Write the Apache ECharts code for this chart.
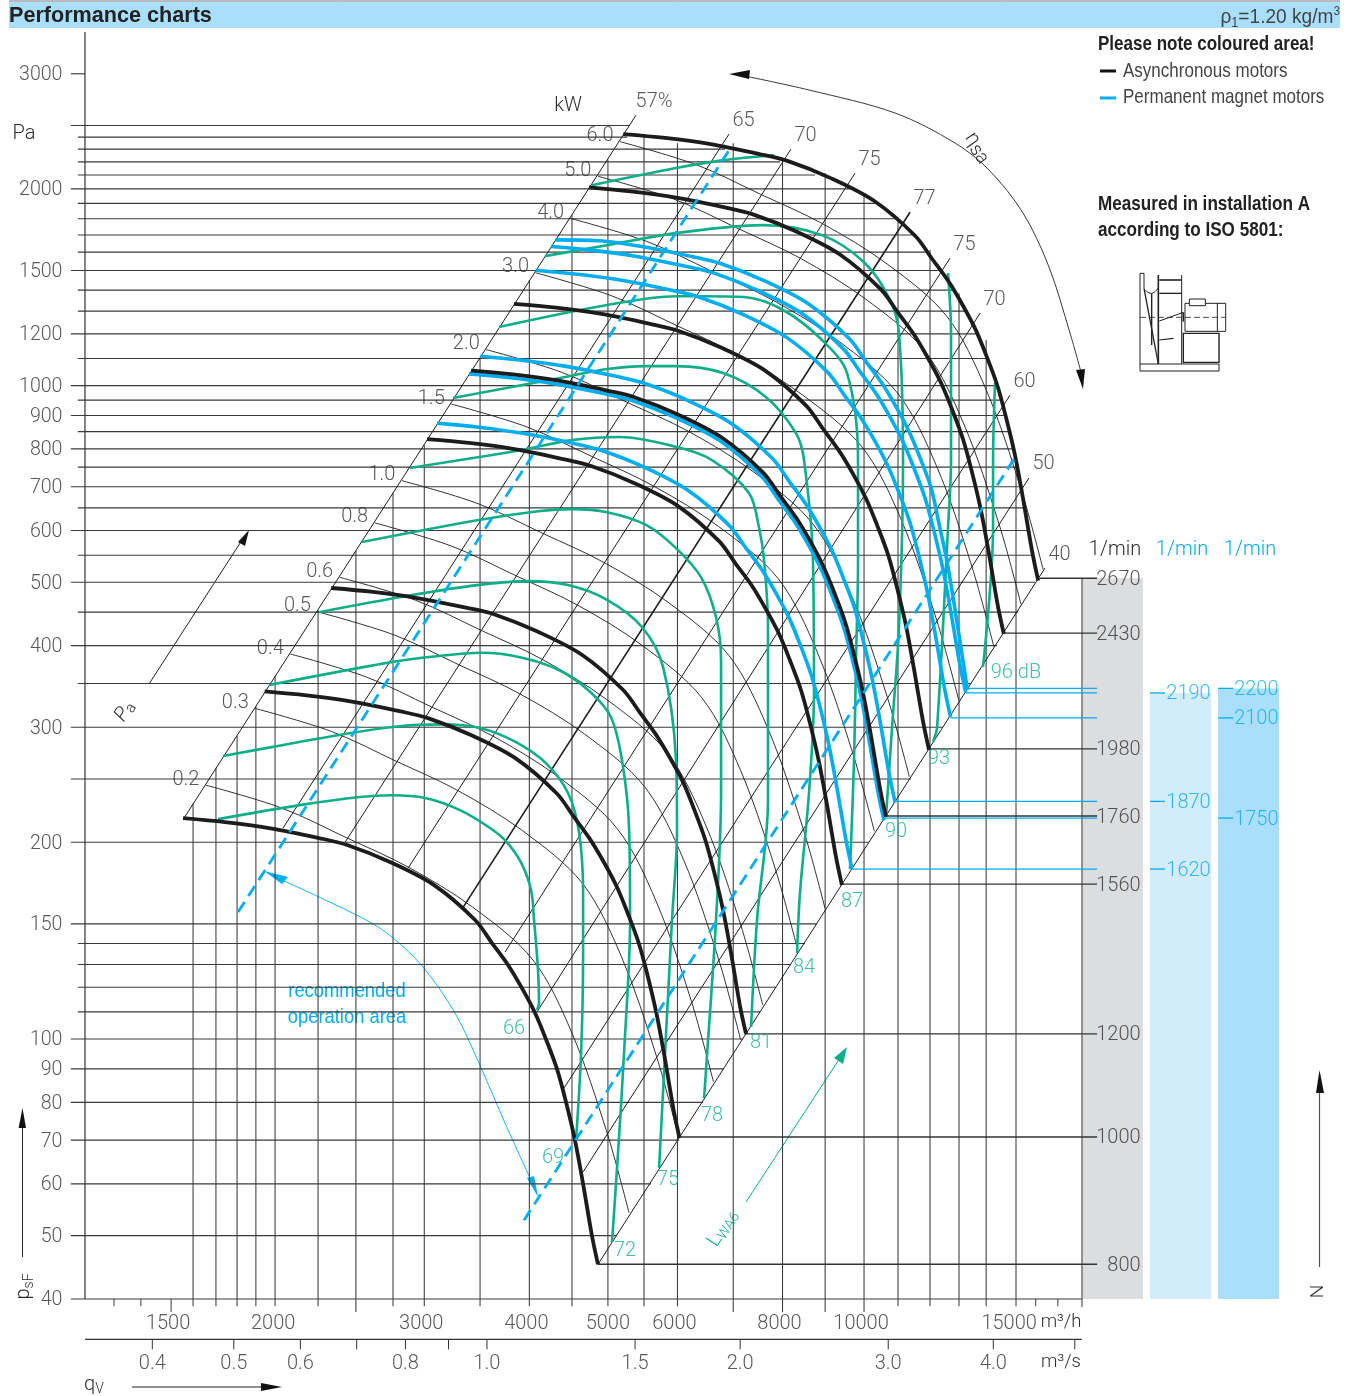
<!DOCTYPE html>
<html><head><meta charset="utf-8">
<style>html,body{margin:0;padding:0;background:#fff}#c{width:1353px;height:1396px}</style>
<script src="https://cdn.jsdelivr.net/npm/echarts@6/dist/echarts.min.js"></script>
</head><body><div id="c"></div>
<script>
// ---------- axis ticks ----------
const yTickLabels=[3000,2000,1500,1200,1000,900,800,700,600,500,400,300,200,150,100,90,80,70,60,50,40];
const xTickLabels=[1500,2000,3000,4000,5000,6000,8000,10000,15000];
const x2TickLabels=[0.4,0.5,0.6,0.8,1.0,1.5,2.0,3.0,4.0];
const x2Ticks=[0.4,0.5,0.6,0.7,0.8,0.9,1.0,1.5,2.0,3.0,4.0,5.0];
const xMinorTicks=[1283,1381,1500,17000,16000];
// ---------- horizontal grid: pressure and the flow where it meets the envelope ----------
const hGridP=[2500,2400,2300,2200,2100,2000,1900,1800,1700,1600,1500,1400,1300,1200,1100,1000,950,900,850,800,750,700,650,600,550,500,450,400,350,300,250,200,150,140,130,120,110,100,90,80,70,60,50];
const hGridEndQ=[5268,5229,6835,7946,8745,9624,10334,10886,11436,11916,12382,12759,13186,13628,14003,14391,14550,14753,14916,15077,15200,15370,15497,15668,15886,15970,15244,14391,13404,12414,11372,10138,8794,8507,8188,7858,7521,7180,6816,6437,6026,5580,5085];
const hGridLong=[2500,2000,1500,1200,1000,900,800,700,600,500,400,300,250,200,150,100,90,80,70,60,50];
// ---------- vertical grid: flow and the pressure where it meets the envelope ----------
const vGridQ=[1593,1696,1797,1892,1994,2243,2488,2754,3000,3495,4000,4495,4960,5475,6000,6990,8000,8990,10000,10975,11980,12970,13970,15160];
const vGridTopP=[229,260,291,323,359,453,558,685,811,1102,1450,1823,2220,2408,2349,2349,2213,2114,1970,1792,1612,1385,1174,756];
const vGridLong=[2488,6990,8000,8990,10000];
// ---------- efficiency lines ----------
const etaLabels=['57%','65','70','75','77','75','70','60','50','40'];
const etaTopQ=[5357,6910,8188,9757,11342,12656,13741,14916,15708,16413];
const etaTopP=[2594,2426,2301,2114,1842,1567,1291,967,722,525.7];
const etaLowQ=[1554,2038,2415,2870,3336,3742,4085,4398,4634,4827];
const etaLowP=[217.8,210.3,200,182.6,159,135.8,110,84.1,62.6,45.2];
// ---------- shaft power curves ----------
const kWLabels=['0.2','0.3','0.4','0.5','0.6','0.8','1.0','1.5','2.0','3.0','4.0','5.0','6.0'];
const kW02q=[1650,2032,2429,2870,3428,4040,4495,4949,5255], kW02p=[244.6,225.6,203,183.3,159,132.1,102.1,71.8,54.2];
const kW03q=[1889,2326,2780,3285,3924,4625,5145,5665,6015], kW03p=[320.5,295.6,266,240.2,208.4,173.1,133.8,94.1,71];
const kW04q=[2079,2560,3061,3616,4319,5090,5664,6236,6621], kW04p=[388.3,358.1,322.2,291,252.4,209.7,162.1,114,86];
const kW05q=[2239,2758,3297,3895,4652,5483,6101,6717,7132], kW05p=[450.6,415.6,373.9,337.6,292.9,243.3,188.1,132.3,99.8];
const kW06q=[2380,2931,3503,4139,4944,5827,6483,7137,7579], kW06p=[508.8,469.2,422.2,381.3,330.7,274.8,212.4,149.3,112.7];
const kW08q=[2619,3226,3856,4556,5442,6413,7135,7856,8342], kW08p=[616.4,568.5,511.6,461.9,400.7,332.9,257.3,180.9,136.6];
const kW10q=[2822,3475,4154,4908,5862,6908,7686,8463,8986], kW10p=[715.2,659.7,593.6,536,464.9,386.3,298.5,209.9,158.5];
const kW15q=[3230,3977,4755,5618,6710,7908,8798,9687,10286], kW15p=[937,864,778,702,609,506,391,275,208];
const kW20q=[3555,4378,5233,6183,7385,8704,9684,10662,11321], kW20p=[1135,1047,942,851,738,613,474,333,252];
const kW30q=[4069,5011,5990,7078,8454,9963,11085,12205,12960], kW30p=[1488,1372,1235,1115,967,803,621,437,330];
const kW40q=[4479,5516,6593,7790,9305,10966,12201,13433,14264], kW40p=[1802,1662,1496,1351,1172,973,752,529,399];
const kW50q=[4825,5942,7102,8392,10023,11813,13143,14471,15366], kW50p=[2091,1929,1736,1567,1359,1129,873,614,463];
const kW60q=[5127,6314,7547,8918,10651,12553,13967,15377,16329], kW60p=[2362,2178,1960,1770,1535,1275,986,693,523];
// ---------- sound power curves (dB) ----------
const dB66q=[1706,2133,2515,2746,3008,3308,3592,3762,3912,4019,4052,4096,4107,4085], dB66p=[217,228,234.6,236,233.7,224,210.3,200,186,169,152,127.5,113.5,110.7];
const dB69q=[1729,2032,2455,2800,3150,3505,3857,4185,4447,4584,4634,4634,4609,4545], dB69p=[271,281.6,293.9,301,303,299,284.7,264.4,237.9,206.7,167.2,135.4,95.2,70];
const dB72q=[1961,2731,3082,3505,3899,4338,4723,5000,5155,5255,5270,5184,5099,5016], dB72p=[348,377,385,390,384,367,340,311,267,211,152,95.2,66.9,48.9];
const dB75q=[2249,2901,3467,3996,4447,4949,5445,5768,5976,5993,5911,5706], dB75p=[450,478,495,502,495,470,427,371,267,209,152,63.5];
const dB78q=[2530,3467,4096,4495,4949,5505,5976,6400,6668,6761,6761,6668,6488,6454], dB78p=[576,622,642,647,640,612,564,509,442,380,237.9,152,89.6,81.2];
const dB81q=[2886,3899,4495,5126,5993,6595,7297,7500,7606,7688,7688,7460,7340], dB81p=[748,796,825,834,805,769,685,607,540,427,232,152,104.3];
const dB84q=[3246,4398,4949,5505,5976,6799,7648,8300,8485,8695,8719,8601,8391,8325], dB84p=[957,1030,1060,1071,1071,1045,960,845.6,769,540,338,237.9,167.2,135.4];
const dB87q=[3681,4949,5976,6400,7199,8012,8914,9545,9837,9837,9783,9730,9624], dB87p=[1229,1328,1370,1370,1366,1305,1174,1045,769,540,380,267,182];
const dB90q=[4175,4949,5976,7563,8914,10027,10738,11005,11127,11005,10797,10621], dB90p=[1578,1640,1711,1760,1699,1539,1352,1203,769,427,300,219];
const dB93Upperq=[4749,5976,6799,7816], dB93Upperp=[2026,2152,2213,2252];
const dB93Lowerq=[12586,12689,12689,12586,12214,12080], dB93Lowerp=[1486,1203,769,607,300,284.7];
const dB96q=[14315,14237,14237,13850], dB96p=[1009,769,607,371];
// ---------- fan curves, asynchronous motors (1/min) ----------
const n800q=[1550,1738,1961,2249,2429,2731,3082,3448,3611,3773,3920,4063,4185,4315,4422,4532,4634,4749,4827];
const n800p=[217.8,214.8,210.3,203,198.1,186.6,172,152.1,140.2,129.8,119.6,109.6,100,89.9,80.1,70,60,49.9,45.2];
const n1000q=[1938,2173,2451,2811,3036,3414,3853,4310,4514,4716,4900,5079,5231,5394,5528,5665,5793,5936,6034];
const n1000p=[340.3,335.6,328.6,317.2,309.5,291.6,268.8,237.7,219.1,202.8,186.9,171.3,156.3,140.5,125.2,109.4,93.8,78,70.6];
const n1200q=[2325,2607,2942,3374,3644,4097,4623,5172,5417,5660,5880,6095,6278,6473,6633,6798,6951,7124,7241];
const n1200p=[490,483.3,473,456.8,446,419.9,387,342,315.5,292,269.1,247,225,202,180.2,157.5,135,112,101.7];
const n1560q=[3023,3389,3824,4386,4737,5325,6010,6724,7041,7357,7644,7923,8161,8414,8623,8837,9036,9261,9413];
const n1560p=[828,816.8,800,771.9,753,709.5,654,578,533.1,494,454.8,417,380.3,342,304.6,266,228.2,190,172];
const n1760q=[3410,3824,4314,4948,5344,6008,6780,7586,7944,8301,8624,8939,9207,9493,9728,9970,10195,10448,10619];
const n1760p=[1054,1040,1018,982.5,959,903.1,832,736,678.6,628,578.9,530,484,435,387.7,339,290.4,241.5,218.8];
const n1980q=[3836,4302,4853,5566,6012,6759,7628,8534,8937,9338,9702,10056,10358,10680,10944,11217,11469,11754,11947];
const n1980p=[1334,1316,1288,1243,1213,1143,1054,932,858.8,795,732.6,671,612.6,551,490.7,429,367.5,306,277];
const n2430q=[4708,5279,5957,6831,7378,8295,9361,10473,10969,11460,11907,12341,12712,13107,13432,13766,14076,14425,14662];
const n2430p=[2010,1982,1940,1873,1828,1722,1587,1403,1294,1198,1103,1011,922.6,829,739,646,553.6,460,417];
const n2670q=[5173,5801,6545,7506,8107,9115,10286,11508,12052,12592,13083,13560,13967,14401,14758,15125,15466,15850,16110];
const n2670p=[2426,2393,2343,2261,2207,2079,1916,1694,1562,1446,1332,1221,1114,1001,892,780,668,556,503];
// ---------- fan curves, permanent magnet motors (1/min) ----------
const n1620q=[3108,3485,3932,4509,4870,5476,6179,6913,7240,7565,7860,8146,8391,8652,8866,9087,9291,9522,9678];
const n1620p=[876,863.5,845,816,796,750.1,691,611,563.6,522,480.8,441,402,361,322,281,241.2,201,182];
const n1750q=[3391,3802,4290,4920,5314,5974,6742,7543,7899,8254,8575,8888,9155,9439,9673,9914,10137,10388,10559];
const n1750p=[1042,1028,1006,971.4,948,892.9,823,728,670.9,621,572.3,524,478.5,430,383.3,335,287.1,239,216];
const n1870q=[3497,3921,4424,5074,5480,6161,6953,7779,8146,8512,8844,9166,9441,9735,9976,10224,10454,10714,10890];
const n1870p=[1109,1093,1070,1033,1008,949.8,875,774,713.6,661,608.8,558,509,458,407.7,356,305.4,254,230];
const n2100q=[4069,4562,5148,5904,6376,7169,8090,9051,9479,9904,10290,10665,10986,11327,11608,11897,12164,12466,12671];
const n2100p=[1501,1480,1449,1399,1365,1286,1185,1048,966.1,894,824.2,755,689.1,620,552,482,413.5,344,311];
const n2190q=[4243,4758,5368,6157,6649,7476,8437,9439,9885,10329,10731,11122,11456,11812,12105,12406,12686,13000,13214];
const n2190p=[1632,1610,1576,1521,1485,1398,1289,1140,1051,973,896.3,821,749.4,674,600.3,525,449.6,374,339];
const n2200q=[4294,4840,5461,6263,6765,7606,8583,9603,10057,10508,10917,11315,11655,12017,12271,12554,12813,13107,13274];
const n2200p=[1671,1666,1631,1574,1536,1447,1334,1180,1087,1007,927.6,850,775.6,697,616.8,537,458.7,380,342];
// ---------- speed scale leaders ----------
const blackSpeeds=[800,1000,1200,1560,1760,1980,2430,2670];
const blackLeadQ=[4827,6026,7218,9389,10620,11950,14630,16190];
const blackLeadP=[45.2,70.8,101.8,172.6,219.4,278,418,507];
const blueSpeeds=[1620,1750,1870,2100,2190,2200];
const blueLeadQ=[9678,10559,10890,12669,13214,13294];
const blueLeadP=[182,217.8,231,310,338.5,344];
const lightScale=[1620,1870,2190];
const darkScale=[1750,2100,2200];
// ---------- speed scale bands: flow from, flow to, top pressure ----------
const bandFromQ=[18160,21880,26360], bandToQ=[21460,25870,31150], bandTopP=[507,338.5,344];
// ---------- recommended operation area ----------
const recLeftQ=[1802,6948], recLeftP=[156.4,2316];
const recRightQ=[3942,15160], recRightP=[52.8,780];

// ---------- styling ----------
const BLACK='#1c1c1c',BLUE='#00ADEF',GREEN='#0DAE88',GREENT='#12B08C',TXT='#2e2e2e',GRID='#3a3a3a';
const BANDS=['#DCDDDF','#D3ECFA','#A9DFFB'];
const SANS='Roboto, "Liberation Sans", sans-serif', COND='"Liberation Sans", sans-serif';
const QLEFT=1185,QRIGHT=18160,PTOP=3476,PBOT=40;
const zip=(a,b)=>a.map((v,i)=>[v,b[i]]);
const line=(data,color,width,z,extra)=>Object.assign({type:'line',data,symbol:'none',showSymbol:false,silent:true,clip:false,animation:false,z,
  lineStyle:{color,width,cap:'butt',join:'round'}},extra||{});
const curve=(q,p,color,width,z)=>line(zip(q,p),color,width,z,{smooth:0.33});
const textSeries=(data,z)=>({type:'scatter',data,symbolSize:1,silent:true,clip:false,animation:false,z:z||20,itemStyle:{color:'transparent'}});
const lbl=(v,text,o)=>{const oo=o||{};const off=oo.offset||[0,0];return {value:v,label:Object.assign({show:true,formatter:String(text),fontFamily:SANS,fontWeight:300,fontSize:20,color:TXT,position:'inside'},oo,{offset:[off[0],off[1]+1.5]})};};

const series=[];
// Speed scale bands
series.push({type:'custom',silent:true,animation:false,z:0,clip:false,coordinateSystem:'cartesian2d',
 data:bandFromQ.map((q,i)=>[q,bandToQ[i],bandTopP[i]]),encode:{x:[0,1],y:2},
 renderItem:(params,api)=>{const a=api.coord([api.value(0),api.value(2)]),b=api.coord([api.value(1),PBOT]);
  return {type:'rect',shape:{x:a[0],y:a[1],width:b[0]-a[0],height:b[1]-a[1]},style:{fill:BANDS[params.dataIndex]}};}});
// Axis lines
series.push(line([[QLEFT,PBOT],[QLEFT,PTOP]],'#333',1.2,2));
// Horizontal grid with ticks
hGridP.forEach((p,i)=>series.push(line([[hGridLong.includes(p)?1140:1162,p],[hGridEndQ[i],p]],GRID,1.15,1)));
series.push(line([[1140,3000],[QLEFT,3000]],GRID,1.15,1));
series.push(line([[1140,40],[QRIGHT,40]],GRID,1.15,1));
// Vertical grid with ticks
vGridQ.forEach((q,i)=>series.push(line([[q,vGridLong.includes(q)?38.2:39],[q,vGridTopP[i]]],GRID,1.05,1)));
xMinorTicks.forEach(q=>series.push(line([[q,q===1500?38.2:39],[q,40]],GRID,1,1)));
series.push(line([[QRIGHT,38.9],[QRIGHT,507]],'#555',1.2,1));
// Efficiency lines
etaTopQ.forEach((q,i)=>series.push(line([[etaLowQ[i],etaLowP[i]],[q,etaTopP[i]]],BLACK,i===4?1.6:1,2)));
// Power curves
[[kW02q,kW02p],[kW03q,kW03p],[kW04q,kW04p],[kW05q,kW05p],[kW06q,kW06p],[kW08q,kW08p],[kW10q,kW10p],[kW15q,kW15p],[kW20q,kW20p],[kW30q,kW30p],[kW40q,kW40p],[kW50q,kW50p],[kW60q,kW60p]]
 .forEach(c=>series.push(curve(c[0],c[1],BLACK,0.9,2)));
// Sound curves
[[dB66q,dB66p],[dB69q,dB69p],[dB72q,dB72p],[dB75q,dB75p],[dB78q,dB78p],[dB81q,dB81p],[dB84q,dB84p],[dB87q,dB87p],[dB90q,dB90p],[dB93Upperq,dB93Upperp],[dB93Lowerq,dB93Lowerp],[dB96q,dB96p]]
 .forEach(c=>series.push(curve(c[0],c[1],GREEN,2.6,3)));
// Recommended area
series.push(line(zip(recLeftQ,recLeftP),BLUE,2.8,6,{lineStyle:{color:BLUE,width:2.8,type:[12,7]}}));
series.push(line(zip(recRightQ,recRightP),BLUE,2.8,6,{lineStyle:{color:BLUE,width:2.8,type:[12,7]}}));
// Fan curves
[[n1620q,n1620p],[n1750q,n1750p],[n1870q,n1870p],[n2100q,n2100p],[n2190q,n2190p],[n2200q,n2200p]].forEach(c=>series.push(curve(c[0],c[1],BLUE,3.6,4)));
[[n800q,n800p],[n1000q,n1000p],[n1200q,n1200p],[n1560q,n1560p],[n1760q,n1760p],[n1980q,n1980p],[n2430q,n2430p],[n2670q,n2670p]].forEach(c=>series.push(curve(c[0],c[1],BLACK,3.8,5)));
// Speed leaders and scales
blackLeadQ.forEach((q,i)=>series.push(line([[q,blackLeadP[i]],[18930,blackLeadP[i]]],'#333',1.4,4)));
blueLeadQ.forEach((q,i)=>series.push(line([[q,blueLeadP[i]],[18930,blueLeadP[i]]],BLUE,1.3,4)));
const leadP=s=>blueLeadP[blueSpeeds.indexOf(s)];
lightScale.forEach(s=>series.push(line([[21880,leadP(s)],[22800,leadP(s)]],BLUE,1.3,4)));
darkScale.forEach(s=>series.push(line([[26360,leadP(s)],[27470,leadP(s)]],BLUE,1.3,4)));
// m3/s axis
series.push(Object.assign(line([[0.3327,34.7],[5.097,34.7]],'#333',1.3,2),{xAxisIndex:1}));
x2Ticks.forEach(v=>series.push(Object.assign(line([[v,34.7],[v,33.5]],'#333',1,2),{xAxisIndex:1})));
// Labels on data anchors
series.push(textSeries(yTickLabels.map(p=>lbl([QLEFT,p],p,{position:'left',distance:22,align:'right',fontSize:19.6}))));
series.push(textSeries(xTickLabels.map(q=>lbl([q,40],q,{offset:[-3,23]}))));
series.push(Object.assign(textSeries(x2TickLabels.map(v=>lbl([v,33.5],v.toFixed(1),{offset:[0,13.5]}))),{xAxisIndex:1}));
const kWStarts=[kW02q,kW03q,kW04q,kW05q,kW06q,kW08q,kW10q,kW15q,kW20q,kW30q,kW40q,kW50q,kW60q].map(a=>a[0]);
const kWStartP=[kW02p,kW03p,kW04p,kW05p,kW06p,kW08p,kW10p,kW15p,kW20p,kW30p,kW40p,kW50p,kW60p].map(a=>a[0]);
series.push(textSeries(kWLabels.map((t,i)=>lbl([kWStarts[i],kWStartP[i]],t,{offset:[-20,-7]}))));
series.push(textSeries(etaLabels.map((t,i)=>lbl([etaTopQ[i],etaTopP[i]],t,{offset:[i===0?18:14.5,-15]}))));
const dBLabels=['66','69','72','75','78','81','84','87','90','93','96 dB'];
const dBEnds=[[dB66q,dB66p],[dB69q,dB69p],[dB72q,dB72p],[dB75q,dB75p],[dB78q,dB78p],[dB81q,dB81p],[dB84q,dB84p],[dB87q,dB87p],[dB90q,dB90p],[dB93Lowerq,dB93Lowerp],[dB96q,dB96p]].map(c=>[c[0][c[0].length-1],c[1][c[1].length-1]]);
const dBOff=[[-23,17],[-23,16],[13,8],[9,11],[8,16],[10,14],[7,14],[2,31],[10,14],[6,15],[33,5]];
series.push(textSeries(dBLabels.map((t,i)=>lbl(dBEnds[i],t,{color:GREENT,offset:dBOff[i]}))));
series.push(textSeries(blackSpeeds.map((s,i)=>lbl([21350,blackLeadP[i]],s,{position:'left',distance:0,align:'right'}))));
series.push(textSeries(lightScale.map(s=>lbl([25870,leadP(s)],s,{position:'left',distance:0,align:'right',color:BLUE}))));
series.push(textSeries(darkScale.map(s=>lbl([31150,leadP(s)],s,{position:'left',distance:0,align:'right',color:BLUE}))));

// ---------- annotations in page space ----------
const T=(text,x,y,o)=>({type:'text',z2:30,x,y:y+1.5,scaleX:(o&&o.sx)||1,rotation:(o&&o.rot||0)*Math.PI/180,style:Object.assign({text,x:0,y:0,fontFamily:SANS,fontWeight:300,fontSize:20,fill:TXT,align:'center',verticalAlign:'middle'},o&&o.style||{})});
const L=(x1,y1,x2,y2,c,w,dash)=>({type:'line',z2:30,shape:{x1,y1,x2,y2},style:{stroke:c||'#222',lineWidth:w||1,lineDash:dash||null}});
const H=(pts,c)=>({type:'polygon',z2:30,shape:{points:pts},style:{fill:c||'#111'}});
const R=(x,y,w,h,c)=>({type:'rect',z2:-5,shape:{x,y,width:w,height:h},style:{fill:c}});
const PL=(pts,c,w,sm)=>({type:'polyline',z2:30,shape:{points:pts,smooth:sm||0},style:{stroke:c||'#222',lineWidth:w||1,fill:null}});
const NB=sx=>({sx,style:{fontFamily:COND,fontWeight:'bold',fontSize:21,fill:'#222',align:'left'}});
const NL=sx=>({sx,style:{fontFamily:COND,fontWeight:'normal',fontSize:21,fill:'#444',align:'left'}});
const mx=z=>1130+z/3,my=z=>265+z/3;
const ML=(a,b,c,d,w,dash)=>L(mx(a),my(b),mx(c),my(d),'#222',w||1,dash);
const graphics=[
 R(9,2,1331,26,'#A9DFFB'),L(9,1,1340,1,'#777',1),
 T('Performance charts',9,15,{style:{fontFamily:COND,fontWeight:'bold',fontSize:21.6,fill:'#222',align:'left'}}),
 T('{a|ρ}{s|1}{a|=1.20 kg/m}{u|3}',1340,16,{sx:0.91,style:{align:'right',rich:{a:{fontFamily:COND,fontSize:21,fill:'#444',lineHeight:26},s:{fontFamily:COND,fontSize:14,fill:'#444',verticalAlign:'bottom',lineHeight:26},u:{fontFamily:COND,fontSize:13,fill:'#444',verticalAlign:'top',lineHeight:26}}}}),
 T('Please note coloured area!',1098,42.5,NB(0.81)),
 L(1100,71,1116,71,'#111',3),T('Asynchronous motors',1123,69.5,NL(0.81)),
 L(1100,98,1116,98,BLUE,3),T('Permanent magnet motors',1123,95.5,NL(0.81)),
 T('Measured in installation A',1098,202.5,NB(0.815)),T('according to ISO 5801:',1098,228.5,NB(0.815)),
 T('Pa',24,132.5),T('kW',568,104.5),
 T('1/min',1115,548.5),T('1/min',1182,548.5,{style:{fill:BLUE}}),T('1/min',1250,548.5,{style:{fill:BLUE}}),
 T('m³/h',1061,1320.5,{style:{fontSize:18.5}}),T('m³/s',1061,1360.5,{style:{fontSize:18.5}}),
 T('{a|q}{s|V}',94,1383,{style:{rich:{a:{fontFamily:SANS,fontWeight:300,fontSize:20,fill:TXT,lineHeight:24},s:{fontFamily:SANS,fontWeight:300,fontSize:14,fill:TXT,verticalAlign:'bottom',lineHeight:24}}}}),
 T('{a|p}{s|sF}',24,1285,{rot:90,style:{rich:{a:{fontFamily:SANS,fontWeight:300,fontSize:20,fill:TXT,lineHeight:24},s:{fontFamily:SANS,fontWeight:300,fontSize:14,fill:TXT,verticalAlign:'bottom',lineHeight:24}}}}),
 T('N',1318,1290,{rot:90,style:{fontSize:19}}),
 T('{a|η}{s|sa}',978,146,{rot:-55,style:{rich:{a:{fontFamily:SANS,fontWeight:300,fontSize:21,fill:TXT,lineHeight:24},s:{fontFamily:SANS,fontWeight:300,fontSize:19,fill:TXT,verticalAlign:'bottom',lineHeight:26}}}}),
 T('{a|P}{s|a}',125,710,{rot:57,style:{rich:{a:{fontFamily:SANS,fontWeight:300,fontSize:20,fontStyle:'italic',fill:TXT,lineHeight:22},s:{fontFamily:SANS,fontWeight:300,fontSize:15,fill:TXT,verticalAlign:'bottom',lineHeight:22}}}}),
 T('{a|L}{s|WA6}',723,1227,{rot:57,style:{rich:{a:{fontFamily:SANS,fontWeight:300,fontSize:20,fill:GREENT,lineHeight:22},s:{fontFamily:SANS,fontWeight:300,fontSize:14,fill:GREENT,verticalAlign:'bottom',lineHeight:22}}}}),
 T('recommended',347,989.5,{sx:0.875,style:{fontFamily:COND,fontSize:21,fill:BLUE}}),
 T('operation area',347,1015.5,{sx:0.875,style:{fontFamily:COND,fontSize:21,fill:BLUE}}),
 // arrows
 PL([[740,75],[809,90],[895,113],[955,143],[989,170],[1023,213],[1049,267],[1070,333],[1081,372]],'#222',0.9,0.33),
 H([[729,74],[750,70],[749,79]]),H([[1083,389],[1076,370],[1085,369]]),
 L(149,684,244,537,'#222',1),H([[249,530],[238,542],[245,546]]),
 PL([[282,880],[319,897],[368,921],[392,937],[423,967],[455,1013],[479,1063],[505,1123],[531,1180]],BLUE,0.9,0.33),
 H([[264,871],[288,877],[282,884]],BLUE),H([[538,1197],[527,1178],[534,1176]],BLUE),
 L(746,1202,838,1061,GREEN,1),H([[847,1047],[834,1058],[843,1064]],GREEN),
 L(22.5,1257,22.5,1126,'#222',1),H([[22.5,1108],[18.6,1128],[26,1128]]),
 L(132,1387,263,1387,'#222',1),H([[282,1387],[261,1383],[261,1391]]),
 L(1319.5,1267,1319.5,1092,'#555',1.2),H([[1319.5,1070],[1316,1093],[1324,1093]]),
 // installation sketch
 {type:'rect',z2:30,shape:{x:mx(30),y:my(297),width:79,height:7},style:{stroke:'#222',lineWidth:1,fill:'none'}},
 ML(30,25,30,297),ML(30,25,42,25),ML(42,25,42,70),ML(42,70,85,297,1.3),
 PL([[mx(42),my(72)],[mx(65),my(85)],[mx(85),my(68)]],'#222',1,0.5),ML(65,85,65,240,1.4),
 ML(85,30,85,297,1.6),ML(155,30,155,297),ML(88,45,155,45,1.6),ML(88,85,155,85,1.3),
 {type:'rect',z2:30,shape:{x:mx(165),y:my(115),width:40.7,height:28},style:{stroke:'#222',lineWidth:1,fill:'none'}},ML(262,115,262,200),
 {type:'rect',z2:30,shape:{x:mx(178),y:my(102),width:16,height:6.7},style:{stroke:'#222',lineWidth:1,fill:'#fff'}},
 {type:'rect',z2:30,shape:{x:mx(160),y:my(205),width:35.7,height:29},style:{stroke:'#222',lineWidth:1.4,fill:'none'}},
 ML(30,157,287,157,0.8,[6,3]),ML(88,168,160,142),ML(88,225,130,220,1.2),ML(160,142,160,170,1.6)
];

const chart=echarts.init(document.getElementById('c'),null,{renderer:'canvas',width:1353,height:1396});
chart.setOption({
 animation:false,backgroundColor:'#fff',
 grid:{left:0,right:0,top:32,bottom:97,containLabel:false},
 xAxis:[
  {type:'log',logBase:10,min:939,max:38140,axisLine:{show:false},axisTick:{show:false},axisLabel:{show:false},splitLine:{show:false}},
  {type:'log',logBase:10,min:0.2636,max:10.71,show:false,axisLine:{show:false},axisTick:{show:false},axisLabel:{show:false},splitLine:{show:false}}
 ],
 yAxis:{type:'log',logBase:10,min:PBOT,max:PTOP,axisLine:{show:false},axisTick:{show:false},axisLabel:{show:false},splitLine:{show:false}},
 tooltip:{show:false},legend:{show:false},
 series,graphic:{elements:graphics}
});
</script></body></html>
